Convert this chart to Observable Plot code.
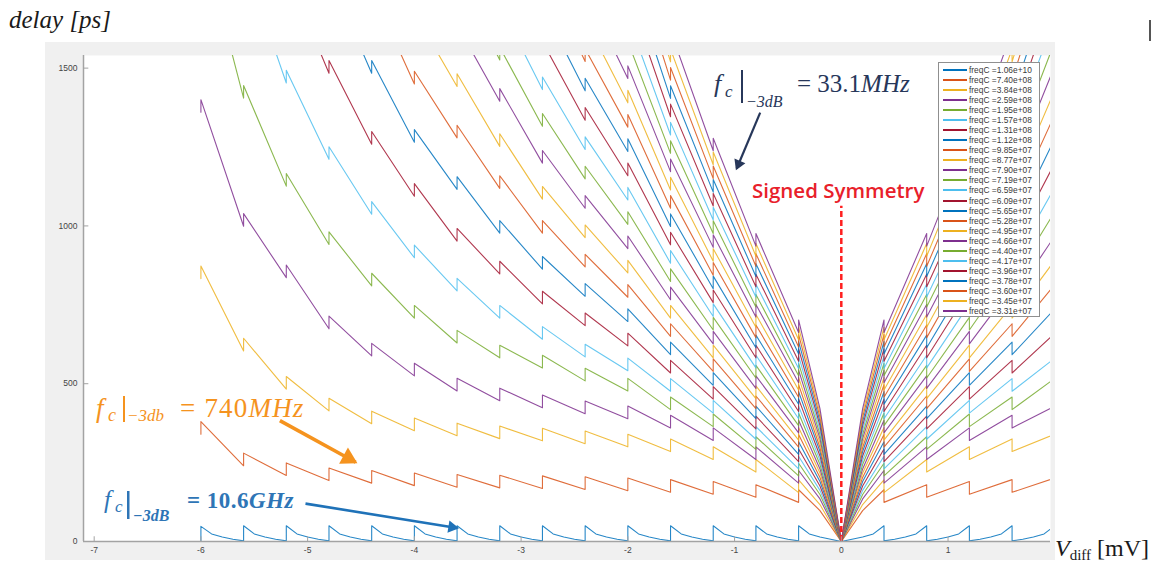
<!DOCTYPE html>
<html><head><meta charset="utf-8">
<script src="https://cdn.jsdelivr.net/npm/d3@7"></script>
<script src="https://cdn.jsdelivr.net/npm/@observablehq/plot@0.6"></script>
<style>
html,body{margin:0;padding:0;background:#fff;}
body{width:1158px;height:565px;position:relative;overflow:hidden;}
#fig{position:absolute;left:45px;top:42px;width:1010px;height:518px;background:#f0f0f0;}
#legend{position:absolute;left:938px;top:62px;width:102px;height:255px;background:#fff;border:1px solid #8f8f8f;box-sizing:border-box;font-family:"Liberation Sans",Arial,sans-serif;}
#legend .row{position:absolute;left:0;height:10px;width:100px;}
#legend .sw{position:absolute;left:4px;top:4px;width:24px;height:2px;}
#legend .tx{position:absolute;left:30px;top:0;font-size:8.4px;line-height:10px;color:#3a3a3a;white-space:nowrap;}
#overlay{position:absolute;left:0;top:0;}
#mark{position:absolute;left:1149px;top:20px;width:2px;height:21px;background:#555;}
</style></head><body>
<div id="fig"></div>
<div id="legend"></div>
<div id="mark"></div>
<svg id="overlay" width="1158" height="565" xmlns="http://www.w3.org/2000/svg">
  <text x="9" y="28" font-family="Liberation Serif,serif" font-style="italic" font-size="25" fill="#1a1a1a">delay [ps]</text>
  <text x="1055" y="556" font-family="Liberation Serif,serif" font-size="24" fill="#1a1a1a"><tspan font-style="italic">V</tspan><tspan font-size="15" dy="4">diff</tspan><tspan dy="-4"> [mV]</tspan></text>

  <g fill="#27375a" font-family="Liberation Serif,serif">
    <text x="714" y="92" font-size="26" font-style="italic">f</text>
    <text x="725" y="97" font-size="17" font-style="italic">c</text>
    <text x="746" y="107" font-size="16" font-style="italic">−3dB</text>
    <text x="797" y="92" font-size="25">= 33.1<tspan font-style="italic">MHz</tspan></text>
  </g>
  <rect x="741" y="70" width="2" height="33" fill="#27375a"/>

  <text x="752" y="198" font-family="Open Sans,Noto Sans,sans-serif" font-size="20.5" font-weight="600" fill="#e8202a">Signed Symmetry</text>

  <g fill="#f5931e" font-family="Liberation Serif,serif">
    <text x="96" y="417" font-size="27" font-style="italic">f</text>
    <text x="108" y="421" font-size="18" font-style="italic">c</text>
    <text x="127" y="421" font-size="17" font-style="italic">−3db</text>
    <text x="180" y="417" font-size="27" letter-spacing="1.2">= 740<tspan font-style="italic">MHz</tspan></text>
  </g>
  <rect x="123" y="396" width="2" height="26" fill="#f5931e"/>

  <g fill="#2e75b6" font-family="Liberation Serif,serif">
    <text x="104" y="508" font-size="25" font-style="italic">f</text>
    <text x="115" y="512" font-size="17" font-style="italic">c</text>
    <text x="133" y="521" font-size="16" font-style="italic" font-weight="bold">−3dB</text>
    <text x="187" y="508" font-size="23" font-weight="bold" letter-spacing="0.5">= 10.6<tspan font-style="italic">GHz</tspan></text>
  </g>
  <rect x="127" y="491" width="2.5" height="28" fill="#2e75b6"/>
</svg>
<script>
// ---------------- data ----------------
const freqLabels = ["1.06e+10","7.40e+08","3.84e+08","2.59e+08","1.95e+08","1.57e+08","1.31e+08","1.12e+08","9.85e+07","8.77e+07","7.90e+07","7.19e+07","6.59e+07","6.09e+07","5.65e+07","5.28e+07","4.95e+07","4.66e+07","4.40e+07","4.17e+07","3.96e+07","3.78e+07","3.60e+07","3.45e+07","3.31e+07"];
const palette = ["#0072BD","#D95319","#EDB120","#7E2F8E","#77AC30","#4DBEEE","#A2142F"];
// switching points (mV), negative side; the curve is mirrored for V > 0
const knots = [-6.0,-5.6,-5.2,-4.8,-4.4,-4.0,-3.6,-3.2,-2.8,-2.4,-2.0,-1.6,-1.2,-0.8,-0.4];
// delay (ps) just before each jump (left side of each knot)
const tr00 = [0,2,2,2,2,2,2,2,2,2,2,2,2,2,2];
const tr01 = [340,240,209,193,185,177,172,170,168,165,161,156,150,140,124];
const tr02 = [833,604,483,414,373,351,335,326,319,310,300,285,260,220,155];
const tr03 = [1360,999,836,674,588,525,477,446,424,405,389,360,320,260,185];
const tr04 = [1885,1405,1126,941,810,708,629,582,550,509,477,418,364,292,208];
const tr05 = [null,1805,1453,1211,1037,899,794,708,641,585,541,476,407,324,230];
const tr06 = [null,null,1766,1484,1259,1094,952,848,753,684,620,534,451,357,253];
const tr07 = [null,null,2076,1754,1484,1265,1116,977,863,777,697,592,495,389,276];
const tr08 = [null,null,null,2024,1708,1450,1279,1119,977,870,774,650,539,421,299];
const tr09 = [null,null,null,null,1932,1635,1442,1252,1085,963,851,708,582,453,321];
const tr10 = [null,null,null,null,null,1820,1597,1395,1199,1056,928,766,626,485,344];
const tr11 = [null,null,null,null,null,2005,1757,1526,1316,1149,1005,824,670,518,367];
const tr12 = [null,null,null,null,null,null,1917,1661,1432,1242,1082,882,713,550,389];
const tr13 = [null,null,null,null,null,null,2077,1796,1544,1335,1159,940,757,582,412];
const tr14 = [null,null,null,null,null,null,null,1931,1656,1428,1236,998,801,614,435];
const tr15 = [null,null,null,null,null,null,null,2066,1768,1521,1313,1056,844,646,457];
const tr16 = [null,null,null,null,null,null,null,null,1880,1614,1390,1114,888,679,480];
const tr17 = [null,null,null,null,null,null,null,null,1992,1707,1467,1172,932,711,503];
const tr18 = [null,null,null,null,null,null,null,null,null,1800,1544,1230,976,743,525];
const tr19 = [null,null,null,null,null,null,null,null,null,1893,1621,1288,1019,775,548];
const tr20 = [null,null,null,null,null,null,null,null,null,null,1698,1346,1063,807,571];
const tr21 = [null,null,null,null,null,null,null,null,null,null,1775,1404,1107,840,594];
const tr22 = [null,null,null,null,null,null,null,null,null,null,1852,1462,1150,872,616];
const tr23 = [null,null,null,null,null,null,null,null,null,null,1929,1520,1194,904,639];
const tr24 = [null,null,null,null,null,null,null,null,null,null,2006,1578,1238,936,662];
// height of the jump at each switching point (ps), per curve
const jumps = [48,40,40,40,40,40,40,40,40,40,40,40,40,40,40,40,40,40,40,40,40,40,40,40,40];
// delay at |V| = 0.2 mV (middle of the last segment), per curve
const mids = [14,98,117,135,149,162,176,190,203,217,230,244,257,271,285,298,312,326,339,353,367,380,394,407,421];
// 10.6 GHz curve: delay at 1/4, 1/2, 3/4 of each segment, counted from its peak
const blueShape = [24,14,7];

// axes
const xDomain = [-7.1, 1.96];
const yDomain = [0, 1540];
const xTicks = [-7,-6,-5,-4,-3,-2,-1,0,1];
const yTicks = [0,500,1000,1500];
// annotations (data coordinates)
const symLine = [{x: 0, top: 1062}];
const arrowNavy = [{x1: -0.76, y1: 1359, x2: -0.98, y2: 1182}];
const arrowOrange = [{x1: -5.26, y1: 383, x2: -4.55, y2: 251}];
const arrowBlue = [{x1: -5.02, y1: 120, x2: -3.60, y2: 43}];

// ---------------- build ----------------
const troughs = [tr00,tr01,tr02,tr03,tr04,tr05,tr06,tr07,tr08,tr09,tr10,tr11,tr12,tr13,tr14,tr15,tr16,tr17,tr18,tr19,tr20,tr21,tr22,tr23,tr24];
const rows = [];
troughs.forEach((T, c) => {
  const J = jumps[c];
  const color = palette[c % 7];
  const blue = c === 0;
  const pts = [];
  for (let i = 0; i < knots.length; i++) {
    if (T[i] == null) continue;
    pts.push([knots[i], T[i]]);
    pts.push([knots[i], T[i] + J]);
    if (blue) {
      const nv = i < knots.length - 1 ? knots[i + 1] : 0;
      const step = nv - knots[i];
      blueShape.forEach((b, q) => pts.push([knots[i] + step * (q + 1) / 4, b]));
    }
  }
  if (!blue) pts.push([-0.2, mids[c]]);
  pts.push([0, 0]);
  if (!blue) pts.push([0.2, mids[c]]);
  for (let i = knots.length - 1; i >= 10; i--) {
    const v = -knots[i];
    if (blue) {
      const pv = i === knots.length - 1 ? 0 : -knots[i + 1];
      const step = v - pv;
      for (let q = 2; q >= 0; q--) pts.push([v - step * (q + 1) / 4, blueShape[q]]);
    }
    pts.push([v, T[i] + J]);
    pts.push([v, T[i]]);
  }
  pts.forEach(([v, d]) => rows.push({id: c, v, d, color}));
});

const W = 1010, H = 518, mL = 38, mT = 13, mR = 5, mB = 19;
const kx = (W - mL - mR) / (xDomain[1] - xDomain[0]);
const ky = (H - mT - mB) / (yDomain[1] - yDomain[0]);
// arrow: shaft plus a filled triangular head rotated along the shaft (screen angle)
function arrowMarks(a, color, r, sw) {
  const dx = (a[0].x2 - a[0].x1) * kx, dy = -(a[0].y2 - a[0].y1) * ky;
  const len = Math.hypot(dx, dy);
  const rot = Math.atan2(dx, -dy) * 180 / Math.PI;
  const tip = 2 * Math.sqrt(Math.PI * r * r / (Math.sqrt(3) * 3));
  const back = tip - 2;
  return [
    Plot.link(a, {x1: "x1", y1: "y1", x2: "x2", y2: "y2", stroke: color, strokeWidth: sw}),
    Plot.dot(a, {x: "x2", y: "y2", symbol: "triangle", r, fill: color, stroke: null, rotate: rot,
      dx: -dx / len * back, dy: -dy / len * back})
  ];
}

const chart = Plot.plot({
  width: W, height: H,
  marginLeft: mL, marginTop: mT, marginRight: mR, marginBottom: mB,
  style: {background: "transparent", fontFamily: "Liberation Sans, Arial, sans-serif", fontSize: "8.5px", color: "#444"},
  x: {domain: xDomain, ticks: xTicks, tickSize: 0, tickPadding: 5, tickFormat: d => String(d), label: null},
  y: {domain: yDomain, ticks: yTicks, tickSize: 0, tickPadding: 6, tickFormat: d => String(d), label: null},
  color: {type: "identity"},
  marks: [
    Plot.frame({fill: "white", stroke: null}),
    Plot.line(rows, {x: "v", y: "d", z: "id", stroke: "color", strokeWidth: 1.1, strokeOpacity: 0.85, clip: true}),
    Plot.ruleX(symLine, {x: "x", y1: 0, y2: "top", stroke: "#ff1f1f", strokeWidth: 2.5, strokeDasharray: "6,3"}),
    Plot.ruleY([yDomain[0]], {stroke: "#a3a3a3", strokeWidth: 1.5}),
    Plot.ruleX([xDomain[0]], {stroke: "#a3a3a3", strokeWidth: 1.5}),
    Plot.ruleX(xTicks, {y1: 0, y2: 15, stroke: "#a3a3a3"}),
    Plot.ruleY(yTicks, {x1: xDomain[0], x2: xDomain[0] + 0.05, stroke: "#a3a3a3"}),
    ...arrowMarks(arrowNavy, "#27375a", 4.4, 2.2),
    ...arrowMarks(arrowOrange, "#f5931e", 6.8, 3.6),
    ...arrowMarks(arrowBlue, "#1f72b8", 4.6, 2.6)
  ]
});
document.getElementById("fig").appendChild(chart);

// legend
const leg = document.getElementById("legend");
freqLabels.forEach((lab, i) => {
  const r = document.createElement("div");
  r.className = "row";
  r.style.top = (1.5 + i * 10.08) + "px";
  const sw = document.createElement("div");
  sw.className = "sw";
  sw.style.background = palette[i % 7];
  const tx = document.createElement("div");
  tx.className = "tx";
  tx.textContent = "freqC =" + lab;
  r.appendChild(sw); r.appendChild(tx);
  leg.appendChild(r);
});
</script>
</body></html>
